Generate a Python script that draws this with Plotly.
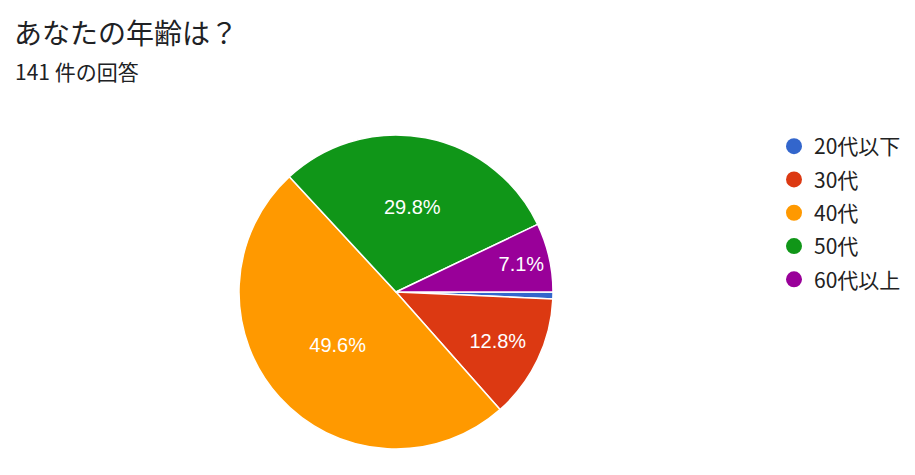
import plotly.graph_objects as go

categories = ["20代以下", "30代", "40代", "50代", "60代以上"]
counts = [1, 18, 70, 42, 10]
colors = ["#3366cc", "#dc3912", "#ff9900", "#109618", "#990099"]
total = sum(counts)
labels_text = [("" if c / total < 0.05 else f"{c / total * 100:.1f}%") for c in counts]

W, H = 915, 475
cx, cy, r = 396, 292, 157

fig = go.Figure()
fig.add_trace(go.Pie(
    labels=categories, values=counts, sort=False, direction="clockwise",
    rotation=90, text=labels_text, textinfo="text", textposition="inside",
    insidetextorientation="horizontal",
    textfont=dict(family="Liberation Sans, Arial", size=20, color="white"),
    marker=dict(colors=colors, line=dict(color="white", width=1.5)),
    showlegend=False, hoverinfo="label+value+percent",
    domain=dict(x=[(cx - r) / W, (cx + r) / W], y=[1 - (cy + r) / H, 1 - (cy - r) / H]),
))
for i, (cat, col) in enumerate(zip(categories, colors)):
    fig.add_trace(go.Scatter(
        x=[None], y=[None], mode="markers", name=cat, legendgroup=f"g{i}",
        marker=dict(symbol="circle", size=20, color=col),
        hoverinfo="skip",
    ))

fig.update_layout(
    width=W, height=H, margin=dict(l=0, r=0, t=0, b=0),
    paper_bgcolor="white", plot_bgcolor="white",
    xaxis=dict(visible=False), yaxis=dict(visible=False),
    legend=dict(x=774 / W, y=1 - 126 / H, xanchor="left", yanchor="top",
                font=dict(family="Noto Sans CJK JP", size=21, color="#222222"),
                tracegroupgap=3, itemsizing="trace", bgcolor="rgba(0,0,0,0)"),
    annotations=[
        dict(text="あなたの年齢は？", x=12 / W, y=1 - 32 / H, xref="paper", yref="paper",
             xanchor="left", yanchor="middle", showarrow=False,
             font=dict(family="Noto Sans CJK JP", size=28, color="#202124")),
        dict(text="141 件の回答", x=13 / W, y=1 - 71 / H, xref="paper", yref="paper",
             xanchor="left", yanchor="middle", showarrow=False,
             font=dict(family="Noto Sans CJK JP", size=21, color="#202124")),
    ],
)
fig.write_html("out.html", post_script="document.body.style.margin='0';",
               config={"displayModeBar": False})
